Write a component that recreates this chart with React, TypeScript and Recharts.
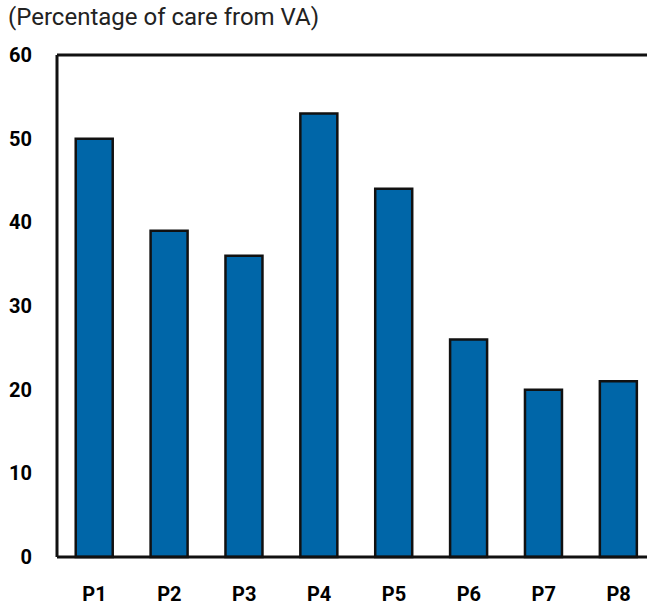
import { BarChart, Bar, XAxis, YAxis, ReferenceLine } from 'recharts';

const categories = ['P1', 'P2', 'P3', 'P4', 'P5', 'P6', 'P7', 'P8'];
const vaShare = [50, 39, 36, 53, 44, 26, 20, 21];
const yTicks = [0, 10, 20, 30, 40, 50, 60];

const data = categories.map((name, i) => ({ name, value: vaShare[i] }));

const tickStyle = { fill: '#000', fontSize: 20, fontWeight: 700, fontFamily: 'Roboto, sans-serif' };

export default function App() {
  return (
    <div
      style={{
        position: 'absolute',
        left: 0,
        top: 0,
        width: 647,
        height: 606,
        overflow: 'hidden',
        background: '#fff',
        fontFamily: 'Roboto, sans-serif',
      }}
    >
      <div
        style={{
          position: 'absolute',
          left: 8,
          top: 3,
          fontSize: 24,
          color: '#222',
          fontWeight: 400,
          whiteSpace: 'nowrap',
        }}
      >
        (Percentage of care from VA)
      </div>
      <BarChart
        width={656}
        height={606}
        data={data}
        margin={{ top: 55, right: 0, bottom: 0, left: 0 }}
        barCategoryGap="25%"
      >
        <XAxis
          dataKey="name"
          tick={tickStyle}
          tickLine={false}
          axisLine={{ stroke: '#111', strokeWidth: 3 }}
          tickMargin={24}
          height={49}
        />
        <YAxis
          domain={[0, 60]}
          ticks={yTicks}
          tick={tickStyle}
          tickLine={false}
          axisLine={{ stroke: '#111', strokeWidth: 3 }}
          tickMargin={19}
          width={57}
          interval={0}
        />
        <ReferenceLine y={60} stroke="#111" strokeWidth={3} />
        <Bar dataKey="value" fill="#0066a8" stroke="#111" strokeWidth={2.5} isAnimationActive={false} />
      </BarChart>
    </div>
  );
}
